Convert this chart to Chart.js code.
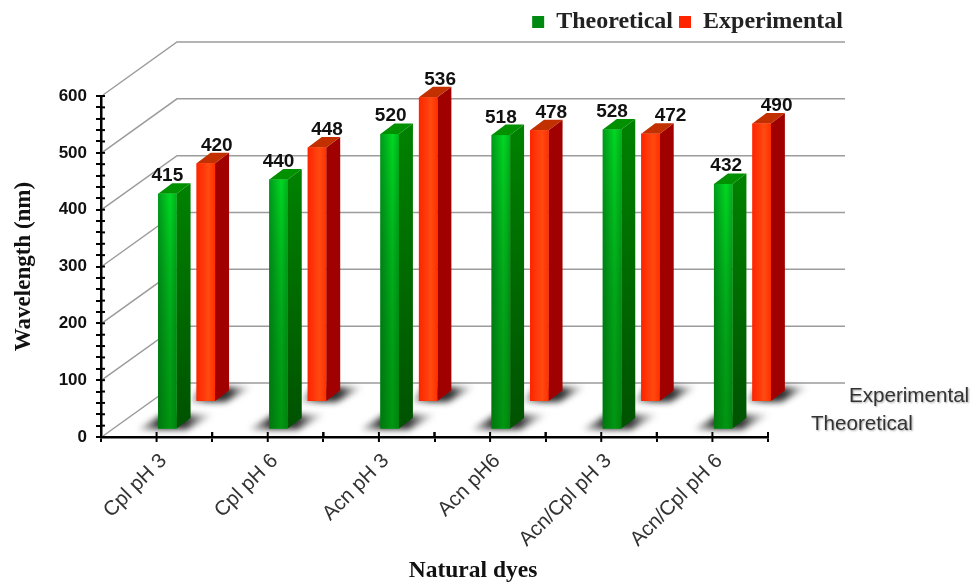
<!DOCTYPE html>
<html>
<head>
<meta charset="utf-8">
<title>Natural dyes</title>
<script src="https://cdn.jsdelivr.net/npm/chart.js@4"></script>
<style>
    html, body { margin: 0; padding: 0; background: #fff; }
    #wrap { position: relative; width: 973px; height: 585px; }
</style>
</head>
<body>
<div id="wrap"><canvas id="dyeChart"></canvas></div>
<script>
const categories = ["Cpl pH 3", "Cpl pH 6", "Acn pH 3", "Acn pH6", "Acn/Cpl pH 3", "Acn/Cpl pH 6"];
const theoretical = [415, 440, 520, 518, 528, 432];
const experimental = [420, 448, 536, 478, 472, 490];

// pseudo 3d look, pixel offsets of each row and of the back wall
const rowShift = [{ x: 30, y: -7.5 }, { x: 30, y: -35 }];
const labelShift = [[0, 0, 1, 0, 0, 3], [11, 10, 12, 12, 20, 15]];
const depth = { x: 14, y: 10.5 };
const wall = { x: 76, y: 54, right: 845 };
const faces = [
    { left: "#009a1a", mid: "#00d822", right: "#00b01c", dark: "rgba(0,85,0,0.5)", side: "#008000", sideLow: "#005200", top: "#009000" },
    { left: "#ff2400", mid: "#ff4a10", right: "#ff3000", dark: "rgba(255,30,0,0)", side: "#a00000", sideLow: "#a00000", top: "#c23000" },
];

const fake3d = {
    id: "fake3d",
    afterLayout(chart) {
        // legend sits above and right of the plot
        chart.legend.right += 81;
        chart.legend.top -= 52;
        chart.legend.bottom -= 52;
    },
    beforeDatasetsDraw(chart) {
        const { ctx, chartArea, scales } = chart;
        const y = scales.y, x = scales.x;
        ctx.save();
        // back wall lines
        ctx.strokeStyle = "#9c9c9c";
        ctx.lineWidth = 1.5;
        y.ticks.forEach((t) => {
            if (t.value % 100 !== 0) return;
            const py = y.getPixelForValue(t.value);
            ctx.beginPath();
            ctx.moveTo(chartArea.left + 2, py - 1);
            ctx.lineTo(chartArea.left + wall.x, py - wall.y);
            ctx.lineTo(wall.right, py - wall.y);
            ctx.stroke();
        });
        // inner half of the axis ticks
        ctx.strokeStyle = "#000";
        ctx.lineWidth = 2;
        y.ticks.forEach((t) => {
            const py = y.getPixelForValue(t.value);
            ctx.beginPath();
            ctx.moveTo(chartArea.left, py);
            ctx.lineTo(chartArea.left + 4, py);
            ctx.stroke();
        });
        const step = x.getPixelForValue(1) - x.getPixelForValue(0);
        categories.forEach((c, i) => {
            const px = x.getPixelForValue(i);
            [px - step / 2, px, px + step / 2].forEach((q, k) => {
                ctx.beginPath();
                ctx.moveTo(q, chartArea.bottom - 5);
                ctx.lineTo(q, chartArea.bottom + (k === 1 ? 5 : 0));
                ctx.stroke();
            });
        });
        // floor shadows
        ctx.filter = "blur(3px)";
        [1, 0].forEach((d) => {
            chart.getDatasetMeta(d).data.forEach((bar) => {
                const s = rowShift[d];
                const l = bar.x - bar.width / 2 + s.x, r = bar.x + bar.width / 2 + s.x, b = bar.base + s.y;
                const far = d === 0 ? 20 : 6;
                const g = ctx.createLinearGradient(l - far, 0, r + 36, 0);
                g.addColorStop(0, "rgba(70,70,70,0.3)");
                g.addColorStop(0.3, "rgba(40,40,40,1)");
                g.addColorStop(0.65, "rgba(40,40,40,0.95)");
                g.addColorStop(1, "rgba(120,120,120,0.1)");
                ctx.fillStyle = g;
                ctx.beginPath();
                ctx.moveTo(l - far, b + 1);
                ctx.lineTo(r + 10, b + 1);
                ctx.lineTo(r + 38, b - 14);
                ctx.lineTo(l + 4, b - 14);
                ctx.closePath();
                ctx.fill();
            });
        });
        ctx.restore();
    },
    beforeDatasetDraw(chart, args) {
        const s = rowShift[args.index];
        chart.ctx.save();
        chart.ctx.translate(s.x, s.y);
    },
    afterDatasetDraw(chart, args) {
        const ctx = chart.ctx;
        const f = faces[args.index];
        args.meta.data.forEach((bar) => {
            const l = bar.x - bar.width / 2, r = bar.x + bar.width / 2;
            // side
            const sg = ctx.createLinearGradient(0, bar.y, 0, bar.base);
            sg.addColorStop(0, f.side);
            sg.addColorStop(1, f.sideLow);
            ctx.fillStyle = sg;
            ctx.beginPath();
            ctx.moveTo(r, bar.y);
            ctx.lineTo(r + depth.x, bar.y - depth.y);
            ctx.lineTo(r + depth.x, bar.base - depth.y);
            ctx.lineTo(r, bar.base);
            ctx.closePath();
            ctx.fill();
            // top
            ctx.fillStyle = f.top;
            ctx.beginPath();
            ctx.moveTo(l, bar.y);
            ctx.lineTo(l + depth.x, bar.y - depth.y);
            ctx.lineTo(r + depth.x, bar.y - depth.y);
            ctx.lineTo(r, bar.y);
            ctx.closePath();
            ctx.fill();
            // front shading
            const g = ctx.createLinearGradient(l, 0, r, 0);
            g.addColorStop(0, f.left);
            g.addColorStop(0.65, f.mid);
            g.addColorStop(1, f.right);
            ctx.fillStyle = g;
            ctx.fillRect(l, bar.y, bar.width, bar.base - bar.y);
            const v = ctx.createLinearGradient(0, bar.y, 0, bar.base);
            v.addColorStop(0, "rgba(0,0,0,0)");
            v.addColorStop(1, f.dark);
            ctx.fillStyle = v;
            ctx.fillRect(l, bar.y, bar.width, bar.base - bar.y);
        });
        ctx.restore();
    },
    afterDatasetsDraw(chart) {
        const { ctx, scales } = chart;
        ctx.save();
        // value labels
        ctx.font = 'bold 19px "Liberation Sans"';
        ctx.fillStyle = "#111";
        ctx.textAlign = "center";
        ctx.textBaseline = "alphabetic";
        chart.data.datasets.forEach((ds, d) => {
            chart.getDatasetMeta(d).data.forEach((bar, i) => {
                const s = rowShift[d];
                ctx.fillText(ds.data[i], bar.x + s.x + labelShift[d][i], bar.y + s.y - depth.y - 2);
            });
        });
        // depth axis names
        ctx.font = '20.6px "Liberation Sans"';
        ctx.fillStyle = "#333";
        ctx.textAlign = "left";
        ctx.shadowColor = "rgba(0,0,0,0.35)";
        ctx.shadowBlur = 2;
        ctx.shadowOffsetX = 1;
        ctx.shadowOffsetY = 1;
        const base = scales.y.getPixelForValue(0);
        ctx.fillText(chart.data.datasets[1].label, 849, base - 35);
        ctx.fillText(chart.data.datasets[0].label, 811, base - 7);
        ctx.restore();
        // x title is not centred on the axis in the original
        ctx.save();
        ctx.font = 'bold 23.5px "Liberation Serif"';
        ctx.fillStyle = "#111";
        ctx.textAlign = "center";
        ctx.textBaseline = "alphabetic";
        ctx.fillText("Natural dyes", 473, 577);
        ctx.restore();
    },
};

const ctx = document.getElementById("dyeChart").getContext("2d");
new Chart(ctx, {
    type: "bar",
    data: {
        labels: categories,
        datasets: [
            { label: "Theoretical", data: theoretical, backgroundColor: "#008a12", borderWidth: 0 },
            { label: "Experimental", data: experimental, backgroundColor: "#ff2400", borderWidth: 0 },
        ],
    },
    options: {
        maintainAspectRatio: false,
        responsive: true,
        animation: false,
        barPercentage: 0.48,
        categoryPercentage: 0.692,
        layout: { padding: { top: 56, right: 205, left: 0, bottom: 0 } },
        plugins: {
            tooltip: { enabled: false },
            legend: {
                position: "top",
                align: "end",
                labels: {
                    boxWidth: 12,
                    boxHeight: 12,
                    padding: 6,
                    color: "#222",
                    font: { family: "Liberation Serif", weight: "bold", size: 24 },
                },
            },
        },
        scales: {
            x: {
                afterFit(scale) { scale.height = 148; },
                border: { color: "#000", width: 2.5 },
                grid: { drawOnChartArea: false, color: "#000", lineWidth: 2, tickLength: 5 },
                ticks: {
                    minRotation: 45,
                    maxRotation: 45,
                    labelOffset: 7,
                    padding: 7,
                    color: "#333",
                    font: { family: "Liberation Sans", size: 20.5 },
                },
            },
            y: {
                min: 0,
                max: 600,
                afterFit(scale) { scale.width = 101; },
                border: { color: "#000", width: 2.5 },
                grid: { drawOnChartArea: false, color: "#000", lineWidth: 2, tickLength: 5 },
                title: {
                    display: true,
                    text: "Wavelength (nm)",
                    color: "#111",
                    font: { family: "Liberation Serif", weight: "bold", size: 23 },
                    padding: { top: 10, bottom: 0 },
                },
                ticks: {
                    stepSize: 20,
                    autoSkip: false,
                    padding: 9,
                    color: "#111",
                    font: { family: "Liberation Sans", weight: "bold", size: 17 },
                    callback: (v) => (v % 100 === 0 ? v : ""),
                },
            },
        },
    },
    plugins: [fake3d],
});
</script>
</body>
</html>
